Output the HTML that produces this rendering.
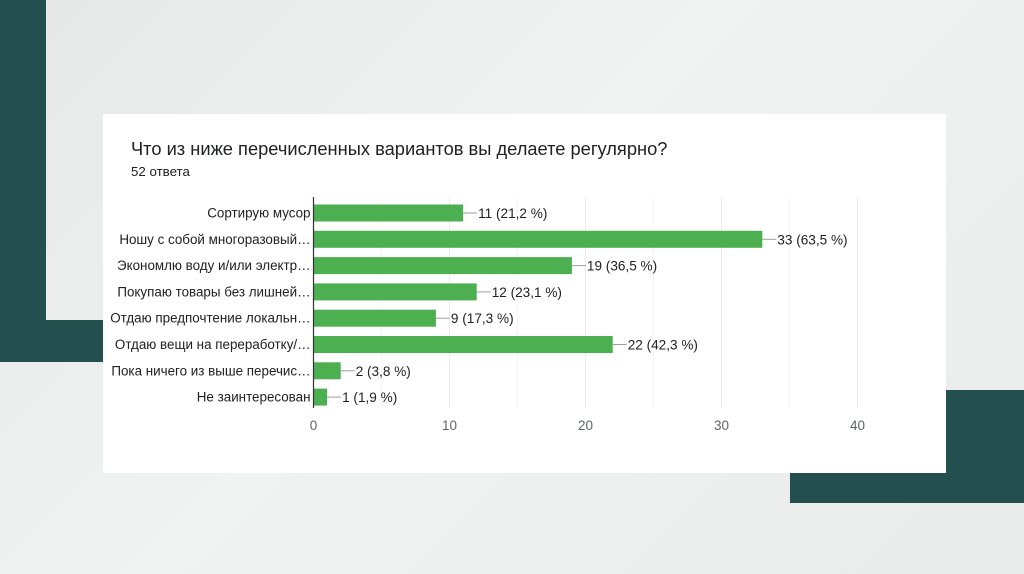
<!DOCTYPE html>
<html><head><meta charset="utf-8"><style>
html,body{margin:0;padding:0;width:1024px;height:574px;overflow:hidden;}
body{background:linear-gradient(135deg,#e6e8e8 0%,#f1f2f2 45%,#e9ebeb 100%);position:relative;font-family:"Liberation Sans","Noto Sans CJK SC",sans-serif;}
.t{position:absolute;background:#23504f;}
#card{position:absolute;left:103px;top:114px;width:843px;height:359px;background:#fff;}
text{font-family:"Liberation Sans","Noto Sans CJK SC",sans-serif;}
</style></head><body>
<div class="t" style="left:0;top:0;width:46px;height:362px"></div>
<div class="t" style="left:0;top:320px;width:103px;height:42px"></div>
<div class="t" style="left:790px;top:390px;width:234px;height:113px"></div>
<div id="card"></div>
<svg id="chart" width="1024" height="574" style="position:absolute;left:0;top:0">
<text x="131" y="155" font-size="18.3" fill="#202124">Что из ниже перечисленных вариантов вы делаете регулярно?</text>
<text x="131" y="176" font-size="13.3" fill="#202124">52 ответа</text>
</svg>
<script>
const categories=["Сортирую мусор","Ношу с собой многоразовый…","Экономлю воду и/или электр…","Покупаю товары без лишней…","Отдаю предпочтение локальн…","Отдаю вещи на переработку/…","Пока ничего из выше перечис…","Не заинтересован"];
const values=[11,33,19,12,9,22,2,1];
const percents=["21,2","63,5","36,5","23,1","17,3","42,3","3,8","1,9"];
const ticks=[0,10,20,30,40];
const svg=document.getElementById('chart');
const NS='http://www.w3.org/2000/svg';
const x0=313.5,scale=13.6,y0=213,pitch=26.3,bh=17;
const X=v=>x0+v*scale, Y=i=>y0+i*pitch;
function mk(tag,a){const e=document.createElementNS(NS,tag);for(const k in a)e.setAttribute(k,a[k]);svg.appendChild(e);return e;}
for(let v=5;v<=40;v+=5){const g=mk('line',{x1:X(v),x2:X(v),y1:198,y2:408,stroke:v%10?'#f6f6f6':'#ececec','stroke-width':1});

}
ticks.forEach(v=>{const t=mk('text',{x:X(v),y:430,'font-size':13.5,fill:'#5f6368','text-anchor':'middle'});t.textContent=v;

});
categories.forEach((c,i)=>{const y=Y(i);
const l=mk('text',{x:X(0)-3,y:y+4.5,'font-size':13.4,fill:'#202124','text-anchor':'end'});l.textContent=c;


const b=mk('rect',{x:X(0),y:y-bh/2,width:values[i]*scale,height:bh,fill:'#4caf50'});


const ln=mk('line',{x1:X(values[i]),x2:X(values[i])+14,y1:y,y2:y,stroke:'#9e9e9e','stroke-width':1});


const vt=mk('text',{x:X(values[i])+15,y:y+5,'font-size':13.6,fill:'#202124'});vt.textContent=values[i]+' ('+percents[i]+' %)';

});
const ax=mk('line',{x1:X(0),x2:X(0),y1:197,y2:408,stroke:'#333','stroke-width':1.2});


</script>
</body></html>
